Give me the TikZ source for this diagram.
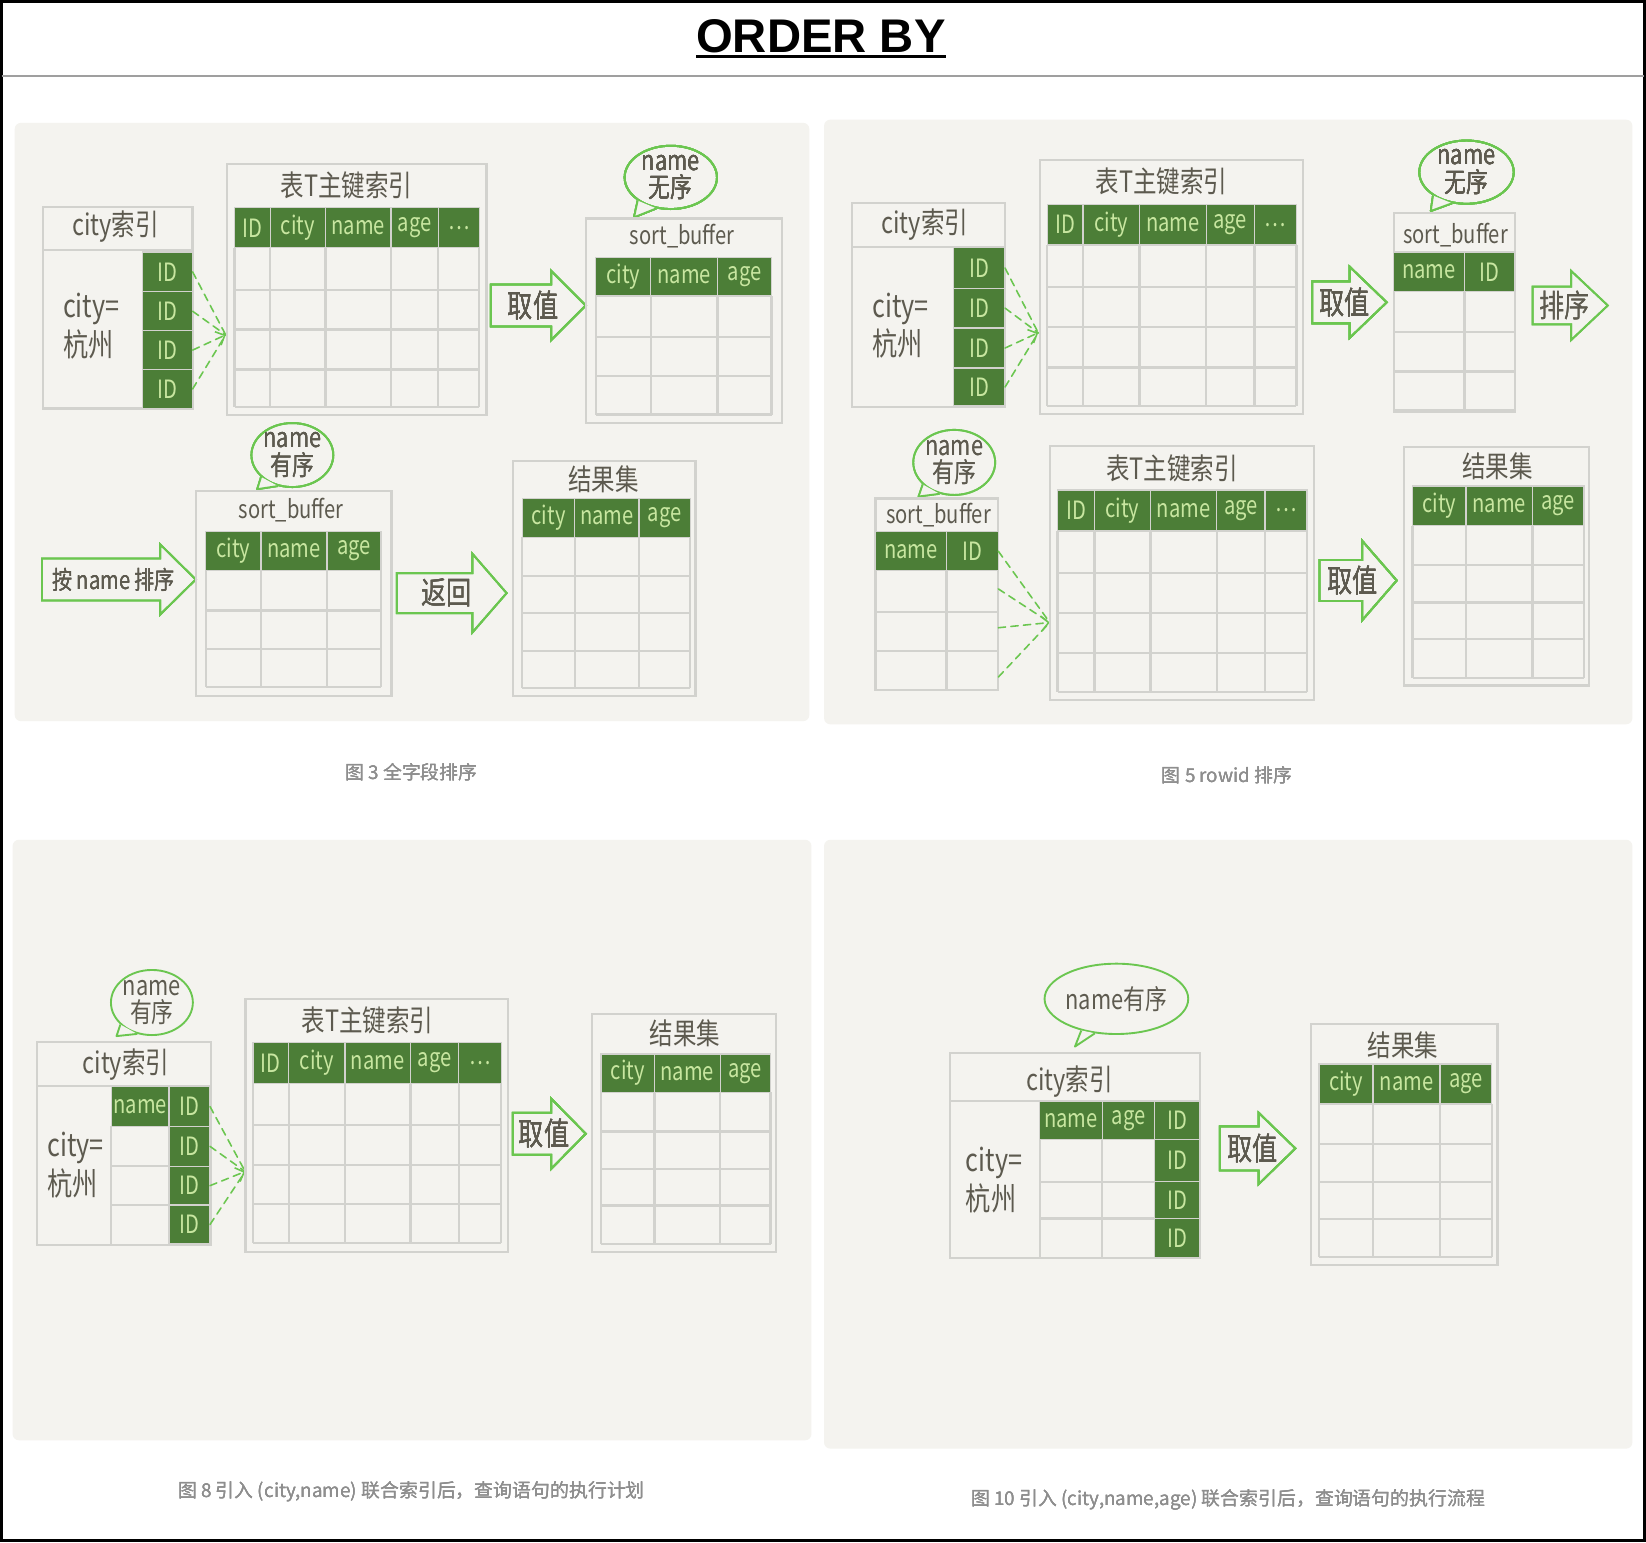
\documentclass[tikz,border=0pt]{standalone}
\usepackage{fontspec}
\setmainfont{Noto Sans CJK SC}
\newfontfamily\hand[FakeStretch=0.8]{Noto Sans CJK SC}
\newfontfamily\headfont{Liberation Sans}
\usetikzlibrary{shapes.geometric,arrows.meta}
\definecolor{panelbg}{HTML}{F4F3EF}
\definecolor{cellln}{HTML}{D2D2CE}
\definecolor{leaf}{HTML}{4C7E37}
\definecolor{sprout}{HTML}{C8E6A0}
\definecolor{lime}{HTML}{6BC650}
\definecolor{ink}{HTML}{5D5A4F}
\definecolor{capgray}{HTML}{8E8E8E}
\tikzset{
  panel/.style={fill=panelbg, rounded corners=6pt},
  frame/.style={draw=cellln, line width=2.2pt},
  cell/.style={draw=cellln, line width=2.2pt},
  hd/.style={fill=leaf, draw=cellln, line width=1.2pt, text=sprout, inner sep=0pt, outer sep=0pt,
    font=\hand\fontsize{24}{24}\selectfont},
  ttl/.style={text=ink, inner sep=0pt, font=\hand\fontsize{28}{28}\selectfont},
  sbuf/.style={ttl, font=\hand\fontsize{24}{24}\selectfont},
  note/.style={text=ink, inner sep=0pt, align=left, font=\hand\fontsize{30}{37}\selectfont},
  bubble/.style={ellipse, draw=lime, line width=1.8pt, inner sep=0pt, text=ink, align=center,
    font=\hand\fontsize{26}{26}\selectfont},
  bigarr/.style={draw=lime, line width=1.8pt, line join=miter},
  arrtxt/.style={text=ink, inner sep=0pt, font=\hand\fontsize{30}{30}\selectfont},
  ptr/.style={draw=lime, line width=1.5pt, dash pattern=on 7pt off 5pt, line cap=round},
  ptrtip/.style={ptr, -{Straight Barb[length=7pt, width=14pt]}},
  caption/.style={text=capgray, inner sep=0pt, font=\fontsize{18}{18}\selectfont},
}
\newcommand\hcell[6]{\node[hd, minimum width={(#4-#2)*1pt}, minimum height={(#5-#3)*1pt}] (#1) at ({(#2+#4)/2},{(#3+#5)/2}) {#6};}
\newcommand\tgrid[6]{\foreach \x in {#5} \draw[cell] (\x,#3) -- (\x,#4); \foreach \y in {#6} \draw[cell] (#1,\y) -- (#2,\y);}
\newcommand\bigarrow[8]{\draw[bigarr] (#2,{#5-#6}) -- (#3,{#5-#6}) -- (#3,{#5-#7}) -- (#4,#5) -- (#3,{#5+#7}) -- (#3,{#5+#6}) -- (#2,{#5+#6}) -- cycle;
  \node[arrtxt] (#1) at ({(#2+#4)/2-5},#5) {#8};}
\newcommand\bubble[9]{\node[bubble, minimum width={2*#4*1pt}, minimum height={2*#5*1pt}] (#1) at (#2,#3) {#9};
  \coordinate (#1tip) at (#6);
  \fill[panelbg] (#1.#7) -- (#1tip) -- (#1.#8) -- cycle;
  \draw[lime, line width=1.8pt, line join=round] (#1.#7) -- (#1tip) -- (#1.#8);}
\begin{document}
\begin{tikzpicture}[x=1pt, y=-1pt]
\useasboundingbox (0,0) rectangle (1568,1469);
\fill[white] (0,0) rectangle (1568,1469);
\draw[line width=3pt] (1.5,1.5) rectangle (1566.5,1467.5);
\draw[gray!75, line width=2pt] (1.5,72) -- (1566.5,72);
\node[anchor=base, inner sep=0pt, font=\headfont\bfseries\fontsize{45}{45}\selectfont] (title) at (782,50) {ORDER BY};
\draw[line width=3pt] ([yshift=-4pt]title.base west) -- ([yshift=-4pt]title.base east);

% figure 3
\fill[panel] (14,117) rectangle (771,687);
\draw[frame] (41,197) rectangle (183.5,389);
\draw[cell] (41,238) -- (183.5,238);
\node[ttl] (c3t) at (110,216) {city索引};
\node[note] (c3k) at (87,311) {city=\\杭州};
\foreach \a/\b [count=\i] in {240/278,278/315,315/352,352/389} \hcell{c3i\i}{136}{\a}{183.5}{\b}{ID}
\coordinate (m3) at (215,319);
\foreach \i in {1,2,4} \draw[ptr] (c3i\i.east) -- (m3);
\draw[ptrtip] (c3i3.east) -- (m3);
\draw[frame] (216,156) rectangle (463.5,395.5);
\node[ttl] (p3t) at (330,177) {表T主键索引};
\foreach \a/\b/\t [count=\i] in {223.5/257.5/ID,257.5/310/city,310/372.5/name,372.5/417.5/age,417.5/456.5/\textellipsis} \hcell{p3h\i}{\a}{198}{\b}{236}{\t}
\tgrid{223.5}{456.5}{236}{388}{223.5,257.5,310,372.5,417.5,456.5}{276,314,352,388}
\bigarrow{a3a}{467.5}{525}{558}{291}{20}{33}{取值}
\bubble{b3a}{639}{169}{44}{29}{604,207}{215}{245}{name\\无序}
\draw[frame] (558,208) rectangle (745,403);
\node[sbuf] (s3t) at (650,225) {sort\_buffer};
\foreach \a/\b/\t [count=\i] in {567.5/620/city,620/683.6/name,683.6/735/age} \hcell{s3h\i}{\a}{245}{\b}{282}{\t}
\tgrid{567.5}{735}{282}{395}{567.5,620,683.6,735}{321,358,395}
\bubble{b3b}{278.5}{433.5}{38.5}{30.5}{245,466}{215}{245}{name\\有序}
\bigarrow{a3b}{40}{152.5}{186.5}{552}{20}{33.5}{{\fontsize{24}{24}\selectfont 按 name 排序}}
\draw[frame] (186.5,468) rectangle (373,663);
\node[sbuf] (s3u) at (277.5,486) {sort\_buffer};
\foreach \a/\b/\t [count=\i] in {196/248.6/city,248.6/311.5/name,311.5/363/age} \hcell{u3h\i}{\a}{506}{\b}{543.6}{\t}
\tgrid{196}{363}{543.6}{654.7}{196,248.6,311.5,363}{581.7,618.5,654.7}
\bigarrow{a3c}{378}{450}{482.6}{565}{19}{37.5}{返回}
\draw[frame] (489,439) rectangle (662.5,663);
\node[ttl] (r3t) at (575,457) {结果集};
\foreach \a/\b/\t [count=\i] in {497.5/547.6/city,547.6/608.7/name,608.7/657.5/age} \hcell{r3h\i}{\a}{475}{\b}{512}{\t}
\tgrid{497.5}{657.5}{512}{655.5}{497.5,547.6,608.7,657.5}{549,584,620,655.5}
\node[caption] (cap3) at (392,736) {图 3 全字段排序};

% figure 5
\fill[panel] (785,114) rectangle (1555,690);
\draw[frame] (811.5,193.5) rectangle (957.4,387.4);
\draw[cell] (811.5,235) -- (957.4,235);
\node[ttl] (c5t) at (881,214) {city索引};
\node[note] (c5k) at (858,310.3) {city=\\杭州};
\foreach \a/\b [count=\i] in {236/274.5,274.5/312.5,312.5/350.6,350.6/386.8} \hcell{c5i\i}{908}{\a}{957.4}{\b}{ID}
\coordinate (m5) at (989,317);
\foreach \i in {1,2,4} \draw[ptr] (c5i\i.east) -- (m5);
\draw[ptrtip] (c5i3.east) -- (m5);
\draw[frame] (990.5,152.4) rectangle (1241,394.4);
\node[ttl] (p5t) at (1106.5,173) {表T主键索引};
\foreach \a/\b/\t [count=\i] in {997.5/1031.6/ID,1031.6/1085.5/city,1085.5/1149/name,1149/1195/age,1195/1235/\textellipsis} \hcell{p5h\i}{\a}{194.5}{\b}{233.4}{\t}
\tgrid{997.5}{1235}{233.4}{386.5}{997.5,1031.6,1085.5,1149,1195,1235}{273.7,311.8,350,386.5}
\bigarrow{a5a}{1250}{1285.6}{1321}{288}{20}{34}{取值}
\bubble{b5a}{1397}{164}{45}{30}{1363,201}{215}{245}{name\\无序}
\draw[frame] (1327.6,203) rectangle (1443,392);
\node[sbuf] (s5t) at (1386.5,224) {sort\_buffer};
\foreach \a/\b/\t [count=\i] in {1327.6/1395/name,1395/1443/ID} \hcell{s5h\i}{\a}{240}{\b}{278}{\t}
\tgrid{1327.6}{1443}{278}{391}{1327.6,1395,1443}{316,354,391}
\bigarrow{a5b}{1460}{1496.6}{1531.6}{291}{18}{33}{排序}
\bubble{b5b}{909}{440.5}{39}{31}{875,473}{215}{245}{name\\有序}
\draw[frame] (834,475) rectangle (951,657);
\node[sbuf] (s5u) at (894,490.6) {sort\_buffer};
\foreach \a/\b/\t [count=\i] in {834/901.6/name,901.6/951/ID} \hcell{u5h\i}{\a}{506.5}{\b}{543.6}{\t}
\tgrid{834}{951}{543.6}{657}{834,901.6,951}{582.7,620,657}
\coordinate (u5r1) at (951,561);
\coordinate (u5r2) at (951,598);
\coordinate (u5r3) at (951,645);
\coordinate (m5b) at (1000,593);
\draw[ptr] (u5h2.east) -- (m5b);
\draw[ptr] (u5r1) -- (m5b);
\draw[ptrtip] (u5r2) -- (m5b);
\draw[ptr] (u5r3) -- (m5b);
\draw[frame] (1000,425) rectangle (1251.6,667);
\node[ttl] (p5u) at (1116.5,446) {表T主键索引};
\foreach \a/\b/\t [count=\i] in {1007.5/1042.5/ID,1042.5/1096/city,1096/1159/name,1159/1205/age,1205/1245/\textellipsis} \hcell{q5h\i}{\a}{466.8}{\b}{505.8}{\t}
\tgrid{1007.5}{1245}{505.8}{659}{1007.5,1042.5,1096,1159,1205,1245}{546,584,621.8,659}
\bigarrow{a5c}{1257}{1297.5}{1330.5}{553}{19.5}{38}{取值}
\draw[frame] (1337.5,425.5) rectangle (1514,653);
\node[ttl] (r5t) at (1426.5,444.6) {结果集};
\foreach \a/\b/\t [count=\i] in {1345.6/1396.6/city,1396.6/1460/name,1460/1509/age} \hcell{r5h\i}{\a}{463}{\b}{500.8}{\t}
\tgrid{1345.6}{1509}{500.8}{645.6}{1345.6,1396.6,1460,1509}{538,573.8,609,645.6}
\node[caption] (cap5) at (1169,739) {图 5 rowid 排序};

% figure 8
\fill[panel] (12,800) rectangle (773,1372);
\bubble{b8}{144.7}{955}{39}{31}{111,987}{215}{245}{name\\有序}
\draw[frame] (35,992.6) rectangle (201,1186);
\draw[cell] (35,1034.5) -- (201,1034.5);
\node[ttl] (c8t) at (120,1014.5) {city索引};
\node[note] (c8k) at (72,1110) {city=\\杭州};
\hcell{c8n}{106}{1035}{161}{1073}{name}
\foreach \a/\b [count=\i] in {1035/1073,1073/1111,1111/1148,1148/1185} \hcell{c8i\i}{161}{\a}{200}{\b}{ID}
\tgrid{106}{161}{1073}{1185}{106}{1111,1148}
\coordinate (m8) at (233.6,1116);
\foreach \i in {1,2,4} \draw[ptr] (c8i\i.east) -- (m8);
\draw[ptrtip] (c8i3.east) -- (m8);
\draw[frame] (234,951.6) rectangle (484,1192.4);
\node[ttl] (p8t) at (350,971.6) {表T主键索引};
\foreach \a/\b/\t [count=\i] in {241/275/ID,275/328.6/city,328.6/391/name,391/437/age,437/477.5/\textellipsis} \hcell{p8h\i}{\a}{993}{\b}{1032}{\t}
\tgrid{241}{477.5}{1032}{1184}{241,275,328.6,391,437,477.5}{1071.6,1110,1147,1184}
\bigarrow{a8}{488.6}{525}{558}{1080}{20}{33.5}{取值}
\draw[frame] (564,966) rectangle (739,1192.4);
\node[ttl] (r8t) at (652.5,984) {结果集};
\foreach \a/\b/\t [count=\i] in {572.6/623.6/city,623.6/686/name,686/734/age} \hcell{r8h\i}{\a}{1004}{\b}{1040.6}{\t}
\tgrid{572.6}{734}{1040.6}{1185}{572.6,623.6,686,734}{1078,1113.6,1148.5,1185}
\node[caption] (cap8) at (392,1421) {图 8 引入 (city,name) 联合索引后，查询语句的执行计划};

% figure 10
\fill[panel] (785,800) rectangle (1555,1380);
\bubble{b10}{1063.5}{951.5}{65.5}{33.5}{1024,997}{222}{238}{name有序}
\draw[frame] (905,1003) rectangle (1143,1198.5);
\draw[cell] (905,1048.5) -- (1143,1048.5);
\node[ttl] (c10t) at (1019,1030.4) {city索引};
\node[note] (c10k) at (947,1124) {city=\\杭州};
\hcell{c10n}{990.5}{1049.5}{1050}{1085.3}{name}
\hcell{c10a}{1050}{1049.5}{1100}{1085.3}{age}
\foreach \a/\b [count=\i] in {1049.5/1085.3,1085.3/1125.7,1125.7/1160.6,1160.6/1197.7} \hcell{c10i\i}{1100}{\a}{1142.6}{\b}{ID}
\tgrid{990.5}{1100}{1085.3}{1197.7}{990.5,1050}{1125.7,1160.6}
\bigarrow{a10}{1162}{1199}{1234}{1094}{21}{34}{取值}
\draw[frame] (1249,975.5) rectangle (1426.6,1205);
\node[ttl] (r10t) at (1336.6,995.5) {结果集};
\foreach \a/\b/\t [count=\i] in {1256.6/1308/city,1308/1371.7/name,1371.7/1421/age} \hcell{r10h\i}{\a}{1013.6}{\b}{1051.7}{\t}
\tgrid{1256.6}{1421}{1051.7}{1197.7}{1256.6,1308,1371.7,1421}{1089.7,1125.7,1161,1197.7}
\node[caption] (cap10) at (1170,1429) {图 10 引入 (city,name,age) 联合索引后，查询语句的执行流程};
\end{tikzpicture}
\end{document}
